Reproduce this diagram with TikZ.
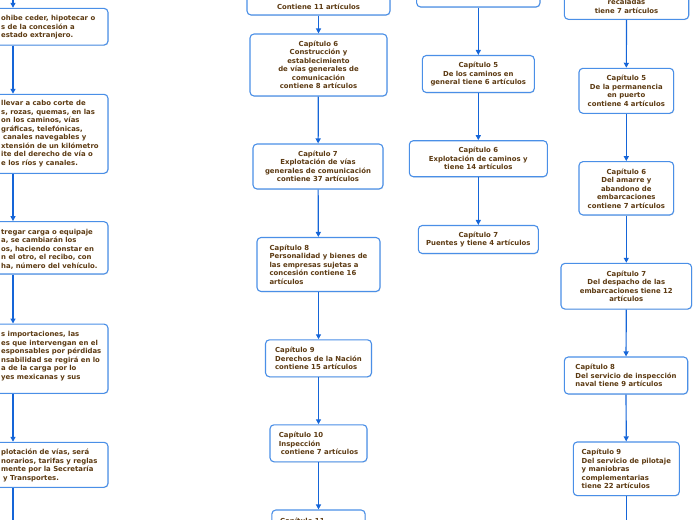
\documentclass[tikz,border=0pt]{standalone}
\usepackage{fontspec}
\setmainfont{DejaVu Sans}
\usetikzlibrary{arrows.meta,shadows}
\definecolor{boxblue}{HTML}{4A8FE7}
\definecolor{arrblue}{HTML}{1565D8}
\definecolor{txtbrown}{HTML}{5C3A12}
\tikzset{
  box/.style={draw=boxblue, line width=1.1pt, rounded corners=4pt, fill=white, inner sep=0pt,
    drop shadow={opacity=0.18, shadow xshift=0.6pt, shadow yshift=-0.8pt}},
  txt/.style={text=txtbrown, font=\fontsize{6.9}{8.5}\selectfont\bfseries, inner sep=0pt},
  conn/.style={draw=arrblue, line width=1.2pt, -{Triangle[width=5pt,length=5pt]}},
  bw/.style={minimum width=#1pt},
  bh/.style={minimum height=#1pt}
}
\begin{document}
\begin{tikzpicture}[x=1pt,y=-1pt]
\useasboundingbox (0,0) rectangle (697,520);
\clip (0,0) rectangle (697,520);

% ---------- column A (cut at the left) ----------
\node[box,bw=190,bh=36.7] (A1) at (13,26.7) {};
\node[box,bw=190,bh=79]   (A2) at (13,133.8) {};
\node[box,bw=190,bh=52.3] (A3) at (13,247.8) {};
\node[box,bw=190,bh=69.3] (A4) at (13,358.7) {};
\node[box,bw=190,bh=45]   (A5) at (13,464.8) {};
\node[txt,align=left,anchor=west] (tA1) at (1,27.5) {ohibe ceder, hipotecar o\\s de la concesión a\\estado extranjero.};
\node[txt,align=left,anchor=west] (tA2) at (1,133.8) {llevar a cabo corte de\\s, rozas, quemas, en las\\on los caminos, vías\\gráficas, telefónicas,\\\hspace{2pt}canales navegables y\\xtensión de un kilómetro\\ite del derecho de vía o\\e los ríos y canales.};
\node[txt,align=left,anchor=west] (tA3) at (1,249) {tregar carga o equipaje\\a, se cambiarán los\\os, haciendo constar en\\n el otro, el recibo, con\\ha, número del vehículo.};
\node[txt,align=left,anchor=west] (tA4) at (1,356) {s importaciones, las\\es que intervengan en el\\esponsables por pérdidas\\nsabilidad se regirá en lo\\a de la carga por lo\\yes mexicanas y sus};
\node[txt,align=left,anchor=west] (tA5) at (1,465.5) {plotación de vías, será\\norarios, tarifas y reglas\\mente por la Secretaría\\\hspace{2pt}y Transportes.};
\coordinate (Atop) at (13,-10);
\coordinate (Abot) at (13,530);
\draw[conn] (Atop) -- (A1.north);
\draw[conn] (A1) -- (A2);
\draw[conn] (A2) -- (A3);
\draw[conn] (A3) -- (A4);
\draw[conn] (A4) -- (A5);
\draw[conn] (A5) -- (Abot);

% ---------- column B ----------
\node[box,bw=143,bh=45] (B0) at (318.5,-7.5) {};
\node[txt] (tB0) at (318.5,6.5) {Contiene 11 artículos};
\node[box,txt,align=center,bw=137,bh=62] (B1) at (318.5,65) {Capítulo 6\\Construcción y\\establecimiento\\de vías generales de\\comunicación\\contiene 8 artículos};
\node[box,txt,align=center,bw=130,bh=45] (B2) at (318,166.5) {Capítulo 7\\Explotación de vías\\generales de comunicación\\contiene 37 artículos};
\node[box,txt,align=left,bw=123,bh=54] (B3) at (318.5,264.5) {Capítulo 8\\Personalidad y bienes de\\las empresas sujetas a\\concesión contiene 16\\artículos};
\node[box,txt,align=left,bw=106,bh=37] (B4) at (318.5,358.3) {Capítulo 9\\Derechos de la Nación\\contiene 15 artículos};
\node[box,txt,align=left,bw=97,bh=37] (B5) at (318.5,443.3) {Capítulo 10\\Inspección\\\hspace{2pt}contiene 7 artículos};
\node[box,bw=93.3,bh=40] (B6) at (318.5,530) {};
\node[txt,anchor=west] (tB6) at (280,521) {Capítulo 11};
\draw[conn] (B0) -- (B1);
\draw[conn] (B1) -- (B2);
\draw[conn] (B2) -- (B3);
\draw[conn] (B3) -- (B4);
\draw[conn] (B4) -- (B5);
\draw[conn] (B5) -- (B6);

% ---------- column C ----------
\node[box,bw=123.3,bh=37] (C0) at (478.3,-11.5) {};
\node[box,txt,align=center,bw=112,bh=37] (C1) at (478.3,74) {Capítulo 5\\De los caminos en\\general tiene 6 artículos};
\node[box,txt,align=center,bw=138,bh=36] (C2) at (478.3,158.7) {Capítulo 6\\Explotación de caminos y\\tiene 14 artículos};
\node[box,txt,align=center,bw=120,bh=28] (C3) at (478.3,239.5) {Capítulo 7\\Puentes y tiene 4 artículos};
\draw[conn] (C0) -- (C1);
\draw[conn] (C1) -- (C2);
\draw[conn] (C2) -- (C3);

% ---------- column D ----------
\node[box,bw=124.4,bh=49.3] (D0) at (626.5,-5.35) {};
\node[txt,align=center] (tD0) at (626.5,6.2) {recaladas\\tiene 7 artículos};
\node[box,txt,align=center,bw=94.7,bh=45] (D1) at (626.3,90.8) {Capítulo 5\\De la permanencia\\en puerto\\contiene 4 artículos};
\node[box,txt,align=center,bw=94.7,bh=53.3] (D2) at (626.3,188.3) {Capítulo 6\\Del amarre y\\abandono de\\embarcaciones\\contiene 7 artículos};
\node[box,txt,align=center,bw=130.7,bh=45.7] (D3) at (626.3,286.2) {Capítulo 7\\Del despacho de las\\embarcaciones tiene 12\\artículos};
\node[box,txt,align=left,bw=123.4,bh=37] (D4) at (626,375.5) {Capítulo 8\\Del servicio de inspección\\naval tiene 9 artículos};
\node[box,txt,align=left,bw=106,bh=53.7] (D5) at (626.3,468.8) {Capítulo 9\\Del servicio de pilotaje\\y maniobras\\complementarias\\tiene 22 artículos};
\coordinate (Dbot) at (626.3,530);
\draw[conn] (D0) -- (D1);
\draw[conn] (D1) -- (D2);
\draw[conn] (D2) -- (D3);
\draw[conn] (D3) -- (D4);
\draw[conn] (D4) -- (D5);
\draw[conn] (D5) -- (Dbot);
\end{tikzpicture}
\end{document}
